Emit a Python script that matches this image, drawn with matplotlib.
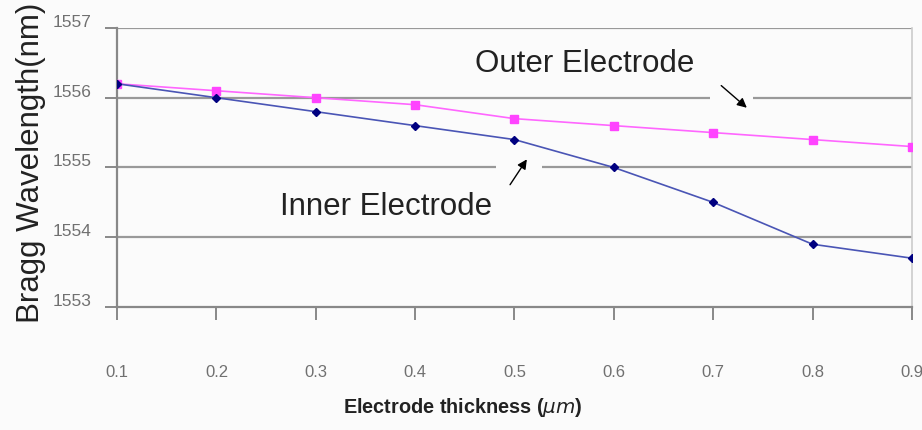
import matplotlib
matplotlib.use("Agg")
import matplotlib.pyplot as plt
from matplotlib.patches import Rectangle
from matplotlib.transforms import ScaledTranslation

thickness = [0.1, 0.2, 0.3, 0.4, 0.5, 0.6, 0.7, 0.8, 0.9]
outer = [1556.2, 1556.1, 1556.0, 1555.9, 1555.7, 1555.6, 1555.5, 1555.4, 1555.3]
inner = [1556.2, 1556.0, 1555.8, 1555.6, 1555.4, 1555.0, 1554.5, 1553.9, 1553.7]
xticks = [0.1, 0.2, 0.3, 0.4, 0.5, 0.6, 0.7, 0.8, 0.9]
yticks = [1553, 1554, 1555, 1556, 1557]

plt.rcParams['font.family'] = ['Liberation Sans', 'DejaVu Sans']

fig = plt.figure(figsize=(9.22, 4.30), dpi=100, facecolor='#fbfbfb')
ax = fig.add_axes([0.127, 0.286, 0.862, 0.649])
ax.set_facecolor('#fbfbfb')

ax.set_xlim(0.1, 0.9)
ax.set_ylim(1553, 1557)
ax.set_xticks(xticks)
ax.set_xticklabels([f"{v:g}" for v in xticks])
ax.set_yticks(yticks)
ax.set_yticklabels([str(v) for v in yticks])

for y in yticks[1:]:
    ax.axhline(y, color='#999999', lw=1.6, zorder=1)

# gaps behind arrows
ax.add_patch(Rectangle((0.697, 1555.85), 0.043, 0.3, facecolor='#fbfbfb', edgecolor='none', zorder=1.5))
ax.add_patch(Rectangle((0.481, 1554.85), 0.047, 0.3, facecolor='#fbfbfb', edgecolor='none', zorder=1.5))

ax.plot(thickness, outer, color='#ff66ff', lw=1.2, marker='s', ms=6, mfc='#ff44ff', mec='#ff44ff', zorder=3)
ax.plot(thickness, inner, color='#4a55b5', lw=1.2, marker='D', ms=4.5, mfc='#000080', mec='#000080', zorder=4)

for s in ['left', 'bottom']:
    ax.spines[s].set_color('#888888')
    ax.spines[s].set_linewidth(1.6)
ax.spines['top'].set_visible(False)
ax.spines['right'].set_color('#cccccc')
ax.spines['right'].set_linewidth(1.2)

ax.tick_params(axis='x', direction='out', length=9, width=1.4, color='#888888',
               pad=33, labelsize=12, labelcolor='#707070')
ax.tick_params(axis='y', direction='out', length=9, width=1.4, color='#888888',
               pad=9.5, labelsize=12.5, labelcolor='#707070')
off = ScaledTranslation(0, 7 / 100, fig.dpi_scale_trans)
for lbl in ax.get_yticklabels():
    lbl.set_transform(lbl.get_transform() + off)

ax.set_ylabel('Bragg Wavelength(nm)', fontsize=22.5, color='#222222')
ax.yaxis.set_label_coords(-0.089, 0.515)
fig.text(0.502, 0.052, r'Electrode thickness ($\mu m$)', fontsize=14.3, fontweight='bold',
         color='#222222', ha='center', va='center')

ax.text(0.571, 1556.49, 'Outer Electrode', fontsize=22.5, color='#222222', ha='center', va='center')
ax.text(0.371, 1554.43, 'Inner Electrode', fontsize=22.5, color='#222222', ha='center', va='center')

ax.annotate('', xy=(0.736, 1555.83), xytext=(0.706, 1556.2),
            arrowprops=dict(arrowstyle='-|>', color='black', lw=1.0, mutation_scale=14))
ax.annotate('', xy=(0.514, 1555.15), xytext=(0.494, 1554.72),
            arrowprops=dict(arrowstyle='-|>', color='black', lw=1.0, mutation_scale=14))

fig.savefig('out.png', dpi=100, facecolor=fig.get_facecolor())
